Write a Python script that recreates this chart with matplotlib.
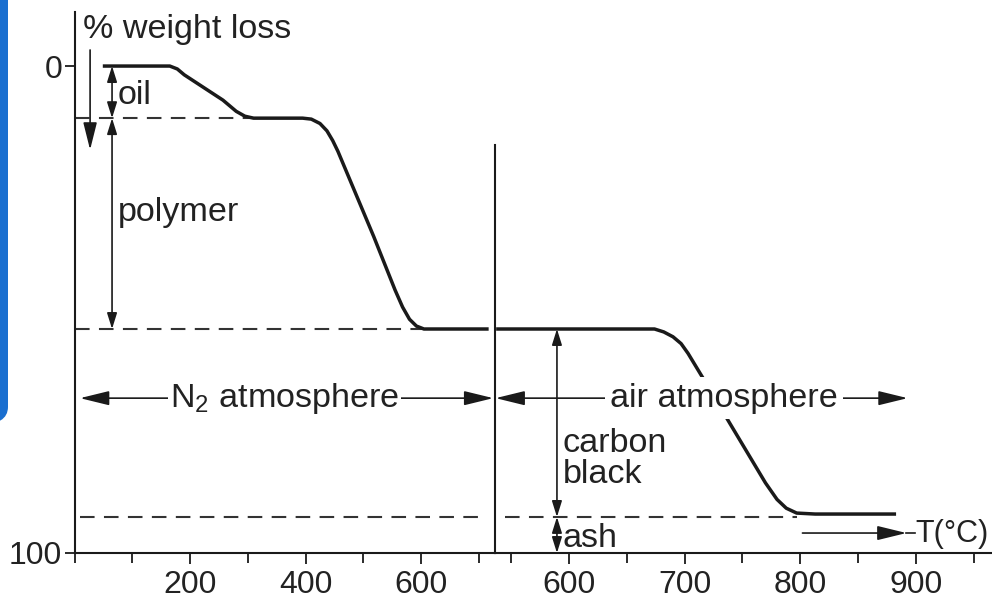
import matplotlib
matplotlib.use('Agg')
import matplotlib.pyplot as plt
from matplotlib.patches import FancyBboxPatch

plt.rcParams['font.family'] = ['Liberation Sans', 'DejaVu Sans']
plt.rcParams['mathtext.fontset'] = 'custom'
plt.rcParams['mathtext.rm'] = 'Liberation Sans'
plt.rcParams['mathtext.it'] = 'Liberation Sans:italic'

# ---------------- data ----------------
# N2 atmosphere segment: temperature (°C) and % weight loss
n2_temp = [49, 165, 178, 190, 257, 280, 295, 310, 395, 410, 425, 437, 447, 456,
           518, 555, 568, 580, 592, 605, 717]
n2_loss = [0, 0, 0.6, 1.8, 7.0, 9.3, 10.3, 10.7, 10.7, 10.9, 11.8, 13.3, 15.3, 17.5,
           35.0, 46.0, 49.5, 52.0, 53.4, 54.0, 54.0]
# air atmosphere segment
air_temp = [537, 674, 682, 690, 697, 703, 717, 739, 770, 780, 788, 797, 813, 883]
air_loss = [54.0, 54.0, 54.6, 55.6, 57.0, 59.0, 64.5, 73.3, 85.6, 89.0, 90.8, 91.8, 92.0, 92.0]

oil_level = 10.7       # end of oil loss
polymer_level = 54.0   # end of polymer loss
ash_level = 92.6       # residue level

n2_ticks = [200, 400, 600]
n2_minor = [0, 100, 300, 500, 700]
air_ticks = [600, 700, 800, 900]
air_minor = [550, 650, 750, 850, 950]
y_ticks = [0, 100]

# ---------------- figure ----------------
W, H = 992, 602
fig = plt.figure(figsize=(W / 100, H / 100), dpi=100)
fig.patch.set_facecolor('white')

def fx(px):
    return px / W

def fy(py):
    return 1 - py / H

FS_TICK = 23
FS = 24.6
INK = '#1a1a1a'

ax1 = fig.add_axes([fx(74.5), fy(553), fx(495) - fx(74.5), fy(12) - fy(553)])
ax2 = fig.add_axes([fx(495), fy(553), 1 - fx(495), fy(12) - fy(553)])

for ax in (ax1, ax2):
    ax.set_facecolor('none')
    ax.set_ylim(100, -11.1)
    ax.spines['top'].set_visible(False)
    ax.spines['right'].set_visible(False)
    for s in ('left', 'bottom'):
        ax.spines[s].set_linewidth(1.5)
        ax.spines[s].set_color(INK)
    ax.tick_params(axis='both', which='both', direction='out', length=7,
                   width=1.3, color=INK, labelsize=FS_TICK, labelcolor='#222222')
    ax.tick_params(axis='x', which='major', pad=4.5, length=8)

ax1.set_xlim(0, 728)
ax2.set_xlim(536, 966)

ax1.set_xticks(n2_ticks)
ax1.set_xticks(n2_minor, minor=True)
ax1.set_yticks(y_ticks)
ax1.set_yticklabels([str(v) for v in y_ticks])
ax1.tick_params(axis='y', pad=2)

ax2.set_xticks(air_ticks)
ax2.set_xticks(air_minor, minor=True)
ax2.set_yticks([])
ax2.spines['left'].set_bounds(16.2, 100)

# curves
ax1.plot(n2_temp, n2_loss, color=INK, lw=2.5, solid_capstyle='butt', zorder=3)
ax2.plot(air_temp, air_loss, color=INK, lw=2.5, solid_capstyle='butt', zorder=3)

# dashed level lines
dash = dict(color='#333333', lw=1.5, dashes=(7, 4.5), zorder=2)
ax1.plot([0, n2_temp[7]], [oil_level, oil_level], **dash)
ax1.plot([0, n2_temp[-2]], [polymer_level, polymer_level], **dash)
ax1.plot([9, 705], [ash_level, ash_level], **dash)
ax2.plot([545, 797], [ash_level, ash_level], **dash)

# dimension arrows
def dim(ax, x, y0, y1):
    ax.annotate('', xy=(x, y1), xytext=(x, y0),
                arrowprops=dict(arrowstyle='<|-|>,head_length=0.8,head_width=0.25',
                                color=INK, lw=1.2, shrinkA=0, shrinkB=0,
                                mutation_scale=12), annotation_clip=False)

dim(ax1, 65, 0, oil_level)
dim(ax1, 65, oil_level, polymer_level)
dim(ax2, 589.6, polymer_level, ash_level)
dim(ax2, 589.6, ash_level, 100)

# weight-loss direction arrow
ax1.annotate('', xy=(27, 17.2), xytext=(27, -3.3),
             arrowprops=dict(arrowstyle='-|>,head_length=1.4,head_width=0.35',
                             color=INK, lw=1.2, shrinkA=0, shrinkB=0,
                             mutation_scale=12), annotation_clip=False)

# atmosphere arrows
def hz(ax, x0, x1, y):
    ax.annotate('', xy=(x1, y), xytext=(x0, y),
                arrowprops=dict(arrowstyle='<|-|>,head_length=0.9,head_width=0.22',
                                color=INK, lw=1.2, shrinkA=0, shrinkB=0,
                                mutation_scale=20), annotation_clip=False)

hz(ax1, 9.5, 725, 68.2)
hz(ax2, 536.5, 893, 68.2)

# temperature arrow
ax2.annotate('', xy=(892, 95.9), xytext=(802, 95.9),
             arrowprops=dict(arrowstyle='-|>,head_length=0.9,head_width=0.22',
                             color=INK, lw=1.2, shrinkA=0, shrinkB=0,
                             mutation_scale=20), annotation_clip=False)
ax2.plot([892, 899], [95.9, 95.9], color=INK, lw=1.2, clip_on=False)

# texts
txt = dict(fontsize=FS, color='#222222', va='baseline', ha='left', zorder=5)
ax1.text(14.7, -5.75, '% weight loss', clip_on=False, **txt)
ax1.text(75.3, 7.8, 'oil', **txt)
ax1.text(75.3, 31.8, 'polymer', **txt)
ax1.text(165, 70.0, 'N$_2$ atmosphere',
         bbox=dict(facecolor='white', edgecolor='none', pad=1.5), **txt)
ax2.text(635.5, 70.0, 'air atmosphere',
         bbox=dict(facecolor='white', edgecolor='none', pad=4), **txt)
ax2.text(594.8, 79.3, 'carbon', **txt)
ax2.text(594.8, 85.6, 'black', **txt)
ax2.text(594.8, 98.8, 'ash', **txt)
ax2.text(899.5, 97.7, 'T(°C)', fontsize=22, color='#222222', va='baseline',
         ha='left', zorder=5, clip_on=False)

# blue frame fragment at the left edge (screenshot border)
frame = FancyBboxPatch((fx(-60), fy(425)), fx(68), fy(-60) - fy(425),
                       boxstyle='round,pad=0,rounding_size=0.03',
                       transform=fig.transFigure, facecolor='#1a6fd0',
                       edgecolor='none', zorder=10)
fig.patches.append(frame)

fig.savefig('out.png', dpi=100, facecolor='white')
